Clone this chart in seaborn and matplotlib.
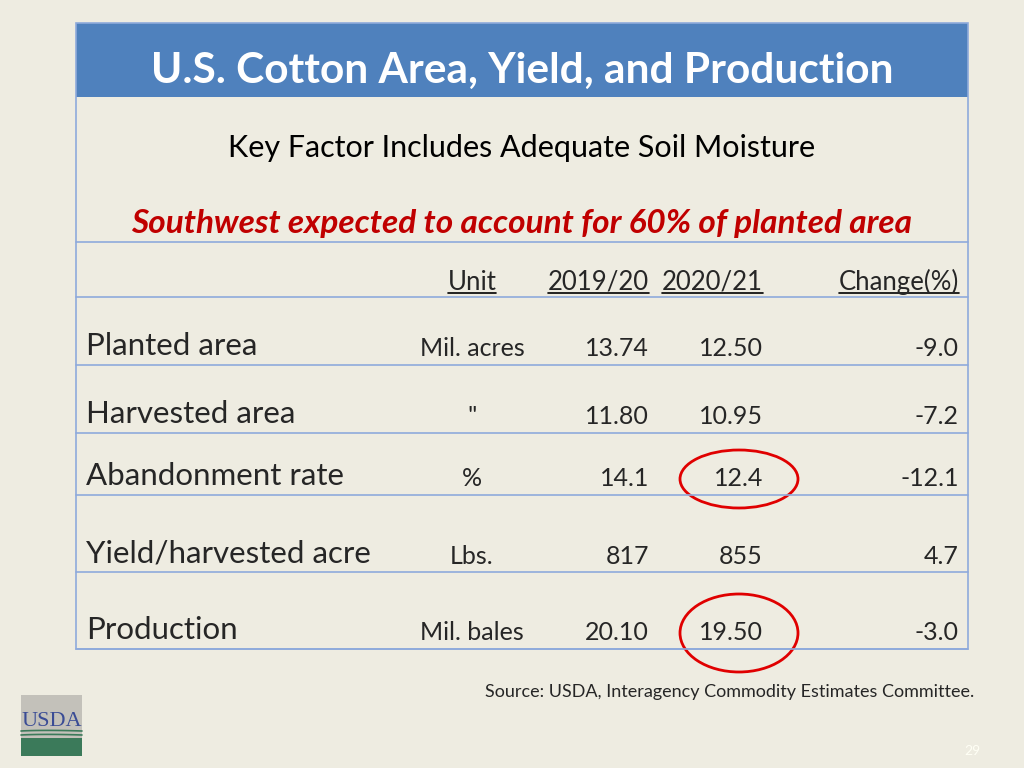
import numpy as np
import matplotlib
matplotlib.use("Agg")
import matplotlib.pyplot as plt
from matplotlib.patches import Rectangle, Ellipse
import seaborn as sns

# table content
title = "U.S. Cotton Area, Yield, and Production"
subtitle = "Key Factor Includes Adequate Soil Moisture"
highlight = "Southwest expected to account for 60% of planted area"
col_headers = ["Unit", "2019/20", "2020/21", "Change(%)"]
items = ["Planted area", "Harvested area", "Abandonment rate",
         "Yield/harvested acre", "Production"]
units = ["Mil. acres", '"', "%", "Lbs.", "Mil. bales"]
val_2019 = [13.74, 11.80, 14.1, 817, 20.10]
val_2020 = [12.50, 10.95, 12.4, 855, 19.50]
change_pct = [-9.0, -7.2, -12.1, 4.7, -3.0]
decimals = [2, 2, 1, 0, 2]
circled = [False, False, True, False, True]
source = "Source: USDA, Interagency Commodity Estimates Committee."
page_no = "29"

BG = "#EEECE1"
BLUE = "#4F81BD"
GRID = "#8EAADB"
RED = "#C00000"
FONT = "Lato"

sns.set_theme(style="white")
plt.rcParams["font.family"] = [FONT, "DejaVu Sans"]

fig = plt.figure(figsize=(10.24, 7.68), dpi=100, facecolor=BG)
ax = fig.add_axes([0, 0, 1, 1])
ax.set_facecolor(BG)
ax.set_xlim(0, 1024)
ax.set_ylim(768, 0)
ax.axis("off")

left, right, top, bottom = 76, 968, 23, 649
head_bottom = 97
row_lines = [242, 297, 365, 433, 495, 572, 649]

# header band + frame
ax.add_patch(Rectangle((left, top), right - left, head_bottom - top,
                       facecolor=BLUE, edgecolor="none"))
ax.add_patch(Rectangle((left, top), right - left, bottom - top,
                       facecolor="none", edgecolor=GRID, lw=1.2))
for y in row_lines:
    ax.plot([left, right], [y, y], color=GRID, lw=1.2)

cx = (left + right) / 2
ax.text(cx, 71, title, color="white", fontsize=30.5, fontweight="bold",
        ha="center", va="center")
ax.text(cx, 148, subtitle, color="black", fontsize=22, ha="center", va="center")
ax.text(cx, 224, highlight, color=RED, fontsize=24, fontweight="bold",
        style="italic", ha="center", va="center")

# column anchors
unit_x = 472
col_right = [649, 763, 959]

fig.canvas.draw()
renderer = fig.canvas.get_renderer()
inv = ax.transData.inverted()


def underline(t):
    bb = t.get_window_extent(renderer=renderer)
    (x0, y0), (x1, y1) = inv.transform([[bb.x0, bb.y0], [bb.x1, bb.y1]])
    yl = max(y0, y1) - 2
    ax.plot([x0, x1], [yl, yl], color="black", lw=1.2)


head_y = 282
t = ax.text(unit_x, head_y, col_headers[0], fontsize=18.5, ha="center", va="center")
underline(t)
for hx, lab in zip(col_right, col_headers[1:]):
    t = ax.text(hx, head_y, lab, fontsize=18.5, ha="right", va="center")
    underline(t)

row_bottoms = row_lines[2:]
for i, yb in enumerate(row_bottoms):
    d = decimals[i]
    ax.text(86, yb - 19, items[i], fontsize=22.5, ha="left", va="center")
    yv = yb - 16
    ax.text(unit_x, yv, units[i], fontsize=18, ha="center", va="center")
    ax.text(col_right[0], yv, f"{val_2019[i]:.{d}f}", fontsize=18,
            ha="right", va="center")
    ax.text(col_right[1], yv, f"{val_2020[i]:.{d}f}", fontsize=18,
            ha="right", va="center")
    ax.text(col_right[2], yv, f"{change_pct[i]:.1f}", fontsize=18,
            ha="right", va="center")
    if circled[i]:
        h = 58 if i < 4 else 78
        ax.add_patch(Ellipse((739, yv), 118, h, facecolor="none",
                             edgecolor="#E00000", lw=2))

ax.text(485, 692, source, fontsize=13, ha="left", va="center")
ax.text(972, 751, page_no, fontsize=10, color="#FFFFF5", ha="center", va="center")

# USDA logo
ax.add_patch(Rectangle((21, 695), 61, 61, facecolor="#C3C1BA", edgecolor="none"))
ax.add_patch(Rectangle((21, 738), 61, 18, facecolor="#3B7A5A", edgecolor="none"))
xs = np.linspace(21, 82, 30)
for off in [731, 735]:
    ax.plot(xs, off + 4 * ((xs - 21) / 61) ** 1.5 - 4 * ((xs - 21) / 61),
            color="#3B7A5A", lw=1.2)
ax.text(51.5, 722, "USDA", family="Liberation Serif", fontsize=16,
        color="#3A4C95", ha="center", va="center")

fig.savefig("out.png", dpi=100, facecolor=BG)
